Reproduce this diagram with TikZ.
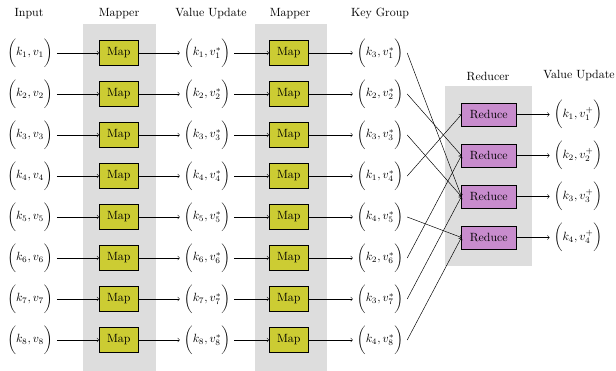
\documentclass[tikz,border=0pt]{standalone}
\definecolor{mapfill}{RGB}{204,204,51}
\definecolor{redfill}{RGB}{200,140,205}
\definecolor{stagegray}{RGB}{221,221,221}

\begin{document}
\begin{tikzpicture}
  [x=0.84pt,y=-0.84pt,
    mapbox/.style={draw,fill=mapfill,minimum width=32.8pt,minimum height=20.7pt,inner sep=0pt},
    redbox/.style={draw,fill=redfill,minimum width=45.6pt,minimum height=19.1pt,inner sep=0pt},
    stage/.style={fill=stagegray},
    head/.style={anchor=base},
]
  \useasboundingbox (0,0) rectangle (616,371);
  \fill[stage] (83,24) rectangle (156,371);
  \fill[stage] (254.5,24) rectangle (327,371);
  \fill[stage] (445,86) rectangle (532,265.7);

  \node[head] (hin) at (29,16.5) {Input};
  \node[head] (hmapa) at (119,16.5) {Mapper};
  \node[head] (hval) at (211,16.5) {Value Update};
  \node[head] (hmapb) at (290,16.5) {Mapper};
  \node[head] (hkey) at (380,16.5) {Key Group};
  \node[head] (hred) at (488,80.5) {Reducer};
  \node[head] (hout) at (579,79) {Value Update};

  \foreach \i/\k in {1/3,2/2,3/3,4/1,5/4,6/2,7/3,8/4} {
    \pgfmathsetmacro\y{53+41*(\i-1)}
    \node (in\i) at (30,\y) {$\biggl(k_{\i},v_{\i}\biggr)$};
    \node[mapbox] (mapa\i) at (118.8,\y) {Map};
    \node (val\i) at (207,\y) {$\biggl(k_{\i},v_{\i}^*\biggr)$};
    \node[mapbox] (mapb\i) at (288.8,\y) {Map};
    \node (key\i) at (380,\y) {$\biggl(k_{\k},v_{\i}^*\biggr)$};
    \draw[->] (in\i) -- (mapa\i);
    \draw[->] (mapa\i) -- (val\i);
    \draw[->] (val\i) -- (mapb\i);
    \draw[->] (mapb\i) -- (key\i);
  }

  \foreach \j in {1,...,4} {
    \pgfmathsetmacro\y{114.5+41*(\j-1)}
    \node[redbox] (red\j) at (488.8,\y) {Reduce};
    \node (out\j) at (578,\y) {$\biggl(k_{\j},v_{\j}^+\biggr)$};
    \draw[->] (red\j) -- (out\j);
  }

  \foreach \i/\k in {1/3,2/2,3/3,4/1,5/4,6/2,7/3,8/4}
    \draw[->] (key\i.east) -- (red\k.west);
\end{tikzpicture}
\end{document}
